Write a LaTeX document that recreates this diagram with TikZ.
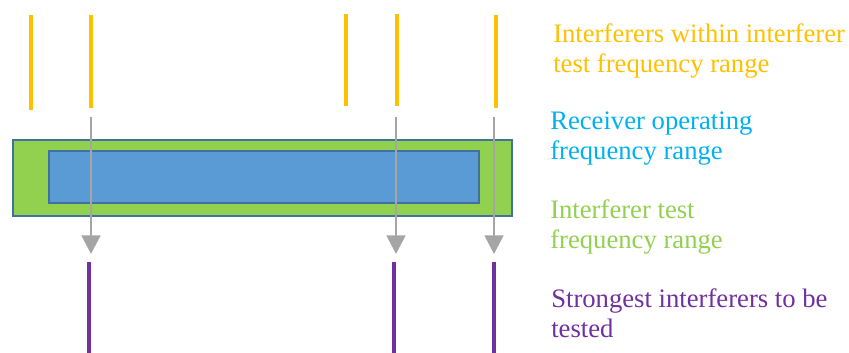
\documentclass[tikz,border=0pt]{standalone}
\usepackage{fontspec}
\setmainfont{Liberation Serif}
\usepackage{tikz}
\usetikzlibrary{arrows.meta, positioning}
\definecolor{intyellow}{RGB}{255,192,0}
\definecolor{rxblue}{RGB}{0,176,240}
\definecolor{testgreen}{RGB}{146,208,80}
\definecolor{strongpurple}{RGB}{112,48,160}
\definecolor{bandblue}{RGB}{91,155,213}
\definecolor{bandedge}{RGB}{65,113,156}
\definecolor{arrowgray}{RGB}{165,165,165}
\tikzset{
  interferer/.style={line width=3pt, color=intyellow},
  strongest/.style={line width=3pt, color=strongpurple},
  band/.style={rectangle, draw=bandedge, line width=1.5pt, inner sep=0pt},
  selarrow/.style={-{Triangle[width=14pt,length=14pt]}, line width=2.2pt, color=arrowgray},
  legend/.style={anchor=west, align=left, inner sep=0pt,
    font=\fontsize{20}{22.5}\selectfont}
}

\begin{document}
\begin{tikzpicture}[x=0.75pt, y=-0.75pt]
  \useasboundingbox (0,0) rectangle (849,353);

  % Frequency bands
  \node[band, fill=testgreen, minimum width=374.25pt, minimum height=57pt]
    (testrange) at (262.5,178) {};
  \node[band, fill=bandblue, minimum width=322.5pt, minimum height=39pt]
    (rxrange) at (264,177) {};

  % All interferers in the test range
  \foreach \x/\top/\bot in {31/15/110, 91/15/108, 346/14/106, 397/14/106, 496/15/108}
    \draw[interferer] (\x,\top) -- (\x,\bot);

  % Picked interferers
  \foreach \name/\x/\xx in {a/91/89, b/396/394, c/494/494} {
    \coordinate (from\name) at (\x,117);
    \coordinate (to\name) at (\x,254);
    \draw[selarrow] (from\name) -- (to\name);
    \draw[strongest] (\xx,262) -- (\xx,353);
  }

  % Legend
  \node[legend, color=intyellow] (lintf) at (553,51)
    {Interferers within interferer\\test frequency range};
  \node[legend, color=rxblue] (lrx) at (550,139)
    {Receiver operating\\frequency range};
  \node[legend, color=testgreen] (ltest) at (550,227)
    {Interferer test\\frequency range};
  \node[legend, color=strongpurple] (lstrong) at (551,313)
    {Strongest interferers to be\\tested};
\end{tikzpicture}
\end{document}
